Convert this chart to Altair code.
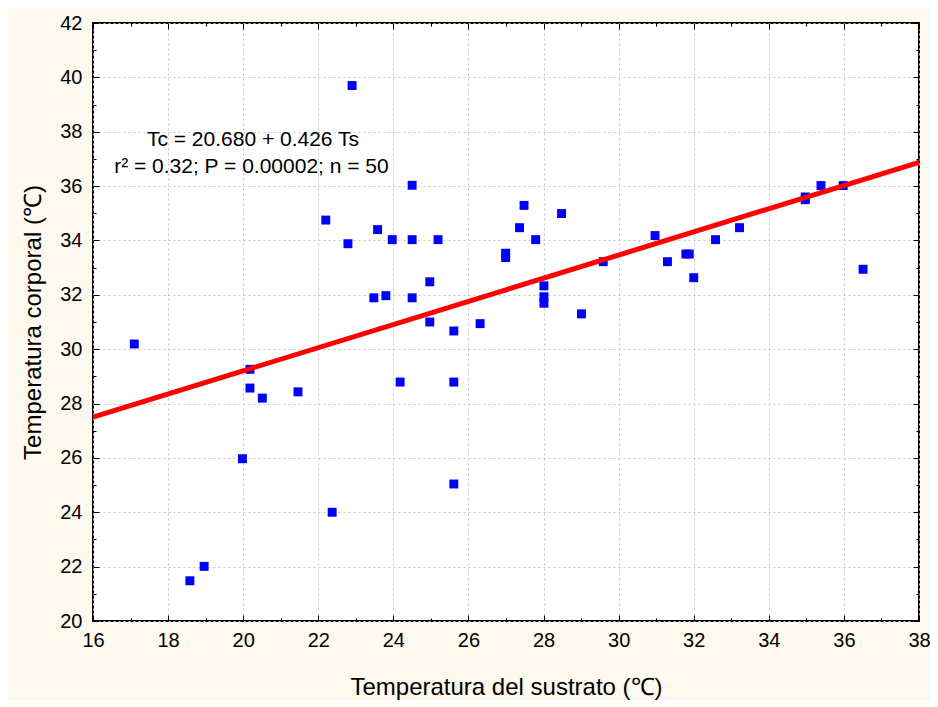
import altair as alt
import pandas as pd

# ---- data ----
ts = [17.10, 18.58, 18.96, 19.98, 20.18, 20.18, 20.51, 21.46, 22.37, 22.20,
      22.90, 22.79, 23.48, 23.58, 23.80, 23.97, 24.18, 24.50, 24.50, 24.50,
      24.97, 24.97, 25.19, 25.61, 25.61, 25.61, 26.31, 26.99, 26.99, 27.36,
      27.48, 27.79, 28.01, 28.01, 28.01, 28.48, 29.01, 29.59, 30.97, 31.30,
      31.79, 31.88, 32.00, 32.58, 33.22, 34.97, 34.97, 35.39, 35.98, 36.51]
tc = [30.19, 21.48, 22.01, 25.97, 29.26, 28.57, 28.20, 28.43, 24.00, 34.75,
      39.70, 33.88, 31.89, 34.40, 31.97, 34.03, 28.79, 36.03, 34.03, 31.89,
      32.48, 31.00, 34.03, 30.67, 28.79, 25.04, 30.94, 33.53, 33.37, 34.47,
      35.29, 34.03, 32.33, 31.93, 31.69, 34.99, 31.30, 33.22, 34.18, 33.22,
      33.50, 33.50, 32.63, 34.03, 34.47, 35.60, 35.50, 36.02, 36.02, 32.94]

fit_x = [16, 38]
fit_y = [27.50, 36.87]

annot_text = ["Tc = 20.680 + 0.426 Ts", "r\u00b2 = 0.32; P = 0.00002; n = 50"]
annot_x = [20.26, 20.22]
annot_y = [37.48, 36.47]

x_major = list(range(16, 39, 2))
x_minor = list(range(17, 38, 2))
y_major = list(range(20, 43, 2))
y_minor = list(range(21, 42, 2))

pts = pd.DataFrame({"Ts": ts, "Tc": tc})
fit = pd.DataFrame({"Ts": fit_x, "Tc": fit_y})
ann = pd.DataFrame({"Ts": annot_x, "Tc": annot_y, "txt": annot_text})

FONT = "Liberation Sans"
xs = alt.Scale(domain=[16, 38], nice=False, zero=False)
ys = alt.Scale(domain=[20, 42], nice=False, zero=False)


def tick_axis(orient, values, size):
    return alt.Axis(orient=orient, values=values, labels=False, domain=False,
                    grid=False, ticks=True, tickSize=size, offset=-size,
                    tickColor="black", tickWidth=1)


# points layer: labels, grid and titles
points = alt.Chart(pts).mark_square(size=80, color="#0000ff", opacity=1).encode(
    x=alt.X("Ts:Q", scale=xs,
            title="Temperatura del sustrato (\u2103)",
            axis=alt.Axis(orient="bottom", values=x_major, ticks=False, domain=False,
                          grid=True, gridColor="#c4c4c4", gridDash=[2, 3], gridWidth=1,
                          labelFont=FONT, labelFontSize=20, labelColor="black",
                          labelPadding=9, labelFlush=False, labelOverlap=False,
                          titleFont=FONT, titleFontSize=24,
                          titleFontWeight="normal", titleColor="black",
                          titleBaseline="alphabetic", titleY=73)),
    y=alt.Y("Tc:Q", scale=ys,
            title="Temperatura corporal (\u2103)",
            axis=alt.Axis(orient="left", values=y_major, ticks=False, domain=False,
                          grid=True, gridColor="#c4c4c4", gridDash=[2, 3], gridWidth=1,
                          labelFont=FONT, labelFontSize=20, labelColor="black",
                          labelPadding=11, labelFlush=False, labelOverlap=False,
                          titleFont=FONT, titleFontSize=24,
                          titleFontWeight="normal", titleColor="black",
                          titleBaseline="middle", titleX=-60, titleY=299)),
)

line = alt.Chart(fit).mark_line(color="#ff0000", strokeWidth=5, clip=True).encode(
    x=alt.X("Ts:Q", scale=xs, title=None, axis=tick_axis("bottom", x_major, 6)),
    y=alt.Y("Tc:Q", scale=ys, title=None, axis=tick_axis("left", y_major, 6)),
)

text = alt.Chart(ann).mark_text(font=FONT, fontSize=21, color="black",
                                align="center", baseline="alphabetic").encode(
    x=alt.X("Ts:Q", scale=xs, title=None, axis=tick_axis("bottom", x_minor, 3)),
    y=alt.Y("Tc:Q", scale=ys, title=None, axis=tick_axis("left", y_minor, 3)),
    text="txt:N",
)

top_major = alt.Chart(fit).mark_point(opacity=0).encode(
    x=alt.X("Ts:Q", scale=xs, title=None, axis=tick_axis("top", x_major, 6)),
    y=alt.Y("Tc:Q", scale=ys, title=None, axis=tick_axis("right", y_major, 6)),
)

top_minor = alt.Chart(fit).mark_point(opacity=0).encode(
    x=alt.X("Ts:Q", scale=xs, title=None, axis=tick_axis("top", x_minor, 3)),
    y=alt.Y("Tc:Q", scale=ys, title=None, axis=tick_axis("right", y_minor, 3)),
)

chart = alt.layer(points, line, text, top_major, top_minor).resolve_axis(
    x="independent", y="independent"
).properties(
    width=826, height=598,
    background="#fdf9ef",
    autosize=alt.AutoSizeParams(type="none"),
    padding={"left": 85, "top": 15, "right": 11, "bottom": 79},
).configure_view(
    fill="white", stroke="black", strokeWidth=2
)

chart.save("out.html", embed_options={"renderer": "svg", "actions": False})
